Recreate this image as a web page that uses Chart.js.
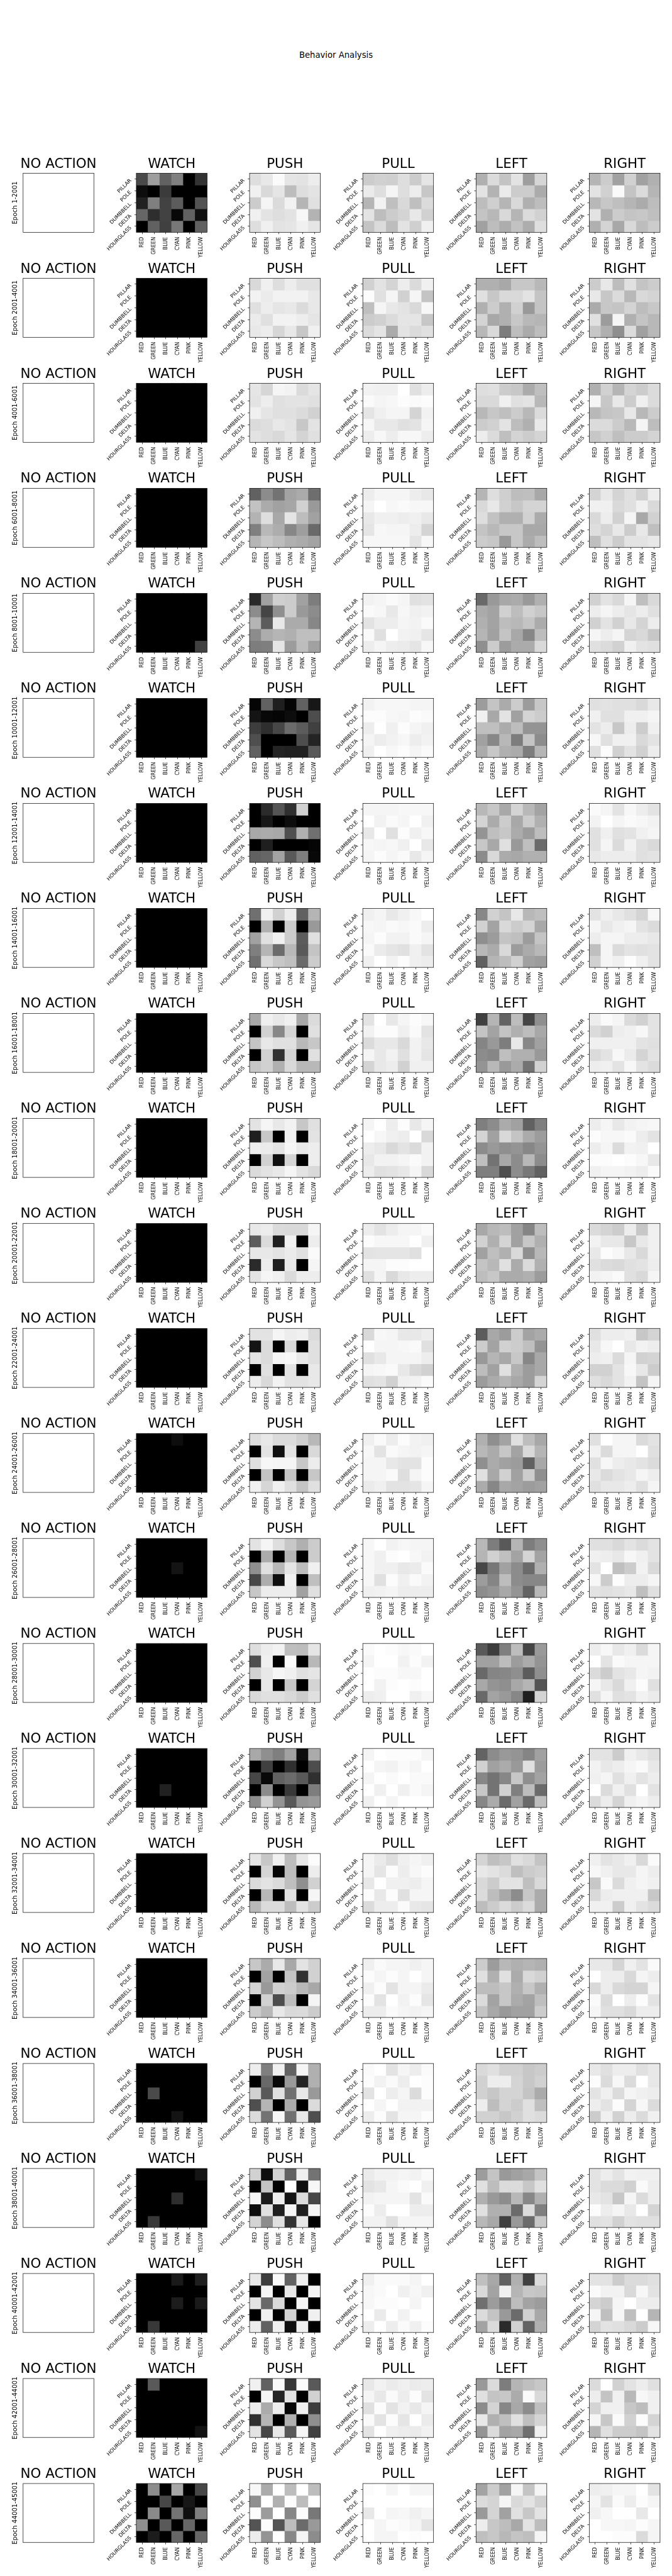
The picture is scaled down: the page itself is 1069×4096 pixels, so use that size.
<!DOCTYPE html>
<html lang="en">
<head>
<meta charset="UTF-8">
<title>Behavior Analysis</title>
<script src="https://cdn.jsdelivr.net/npm/chart.js@4/dist/chart.umd.min.js"></script>
<style>
  html, body { margin: 0; padding: 0; background: #fff; }
  #page { position: relative; width: 1069px; height: 4096px; overflow: hidden; }
  #page canvas { position: absolute; }
  #suptitle { position: absolute; left: 0; width: 1069px; top: 79.5px; text-align: center;
    font: 13.2px/15px "DejaVu Sans", sans-serif; color: #000; }
</style>
</head>
<body>
<div id="page"><div id="suptitle">Behavior Analysis</div></div>
<script>
const actions = ['NO ACTION', 'WATCH', 'PUSH', 'PULL', 'LEFT', 'RIGHT'];
const colours = ['RED', 'GREEN', 'BLUE', 'CYAN', 'PINK', 'YELLOW'];
const shapes = ['PILLAR', 'POLE', 'DUMBBELL', 'DELTA', 'HOURGLASS'];
const epochs = ['1-2001', '2001-4001', '4001-6001', '6001-8001', '8001-10001', '10001-12001',
  '12001-14001', '14001-16001', '16001-18001', '18001-20001', '20001-22001', '22001-24001',
  '24001-26001', '26001-28001', '28001-30001', '30001-32001', '32001-34001', '34001-36001',
  '36001-38001', '38001-40001', '40001-42001', '42001-44001', '44001-45001'];

// brightness of each cell, 0 = black, 100 = white, read row by row (5 shapes x 6 colours)
const watchCells = [
  [29,62,38,50,0,20, 5,0,23,0,0,0, 13,50,26,36,0,32, 40,18,26,3,38,6, 0,38,25,47,0,38],
  [0,0,0,0,0,0, 0,0,0,0,0,0, 0,0,0,0,0,0, 0,0,0,0,0,0, 0,0,0,0,0,0],
  [0,0,0,0,0,0, 0,0,0,0,0,0, 0,0,0,0,0,0, 0,0,0,0,0,0, 0,0,0,0,0,0],
  [0,0,0,0,0,0, 0,0,0,0,0,0, 0,0,0,0,0,0, 0,0,0,0,0,0, 0,0,0,0,0,0],
  [0,0,0,0,0,0, 0,0,0,0,0,0, 0,0,0,0,0,0, 0,0,0,0,0,0, 0,0,0,0,0,25],
  [0,0,0,0,0,0, 0,0,0,0,0,0, 0,0,0,0,0,0, 0,0,0,0,0,0, 0,0,0,0,0,0],
  [0,0,0,0,0,0, 0,0,0,0,0,0, 0,0,0,0,0,0, 0,0,0,0,0,0, 0,0,0,0,0,0],
  [0,0,0,0,0,0, 0,0,0,0,0,0, 0,0,0,0,0,0, 0,0,0,0,0,0, 0,0,0,0,0,0],
  [0,0,0,0,0,0, 0,0,0,0,0,0, 0,0,0,0,0,0, 0,0,0,0,0,0, 0,0,0,0,0,0],
  [0,0,0,0,0,0, 0,0,0,0,0,0, 0,0,0,0,0,0, 0,0,0,0,0,0, 0,0,0,0,0,0],
  [0,0,0,0,0,0, 0,0,0,0,0,0, 0,0,0,0,0,0, 0,0,0,0,0,0, 0,0,0,0,0,0],
  [0,0,0,0,0,0, 0,0,0,0,0,0, 0,0,0,0,0,0, 0,0,0,0,0,0, 0,0,0,0,0,0],
  [0,0,0,5,0,0, 0,0,0,0,0,0, 0,0,0,0,0,0, 0,0,0,0,0,0, 0,0,0,0,0,0],
  [0,0,0,0,0,0, 0,0,0,0,0,0, 0,0,0,8,0,0, 0,0,0,0,0,0, 0,0,0,0,0,0],
  [0,0,0,0,0,0, 0,0,0,0,0,0, 0,0,0,0,0,0, 0,0,0,0,0,0, 0,0,0,0,0,0],
  [0,0,0,0,0,0, 0,0,0,0,0,0, 0,0,0,0,0,0, 0,0,13,0,0,0, 0,0,0,0,0,0],
  [0,0,0,0,0,0, 0,0,0,0,0,0, 0,0,0,0,0,0, 0,0,0,0,0,0, 0,0,0,0,0,0],
  [0,0,0,0,0,0, 0,0,0,0,0,0, 0,0,0,0,0,0, 0,0,0,0,0,0, 0,0,0,0,0,0],
  [0,0,0,0,0,0, 0,0,0,0,0,0, 0,29,0,0,0,0, 0,0,0,0,0,0, 0,0,0,8,0,0],
  [0,0,0,0,0,8, 0,0,0,0,0,0, 0,0,0,18,0,0, 0,0,0,0,0,0, 0,22,0,0,0,0],
  [0,0,0,10,0,12, 0,0,0,0,0,0, 0,0,0,11,0,10, 0,0,0,0,0,0, 0,22,0,0,0,0],
  [0,35,0,0,0,0, 0,0,0,0,0,0, 0,0,0,0,0,0, 0,0,0,0,0,0, 0,0,0,0,0,7],
  [0,55,0,65,0,28, 0,0,28,0,9,0, 0,54,0,45,6,50, 56,0,35,0,40,0, 0,11,0,40,0,40],
];
const pushCells = [
  [87,91,98,90,89,93, 94,85,90,74,87,89, 80,96,86,95,71,88, 94,89,87,89,97,70, 87,94,89,90,94,90],
  [85,94,87,93,88,88, 95,92,95,95,95,91, 88,93,90,91,86,91, 92,88,95,95,93,90, 91,93,84,91,78,94],
  [90,84,96,95,86,90, 89,93,88,89,89,88, 94,90,88,88,86,82, 86,87,91,89,78,89, 89,87,85,90,83,88],
  [38,55,45,64,67,43, 76,67,63,65,82,60, 70,87,66,90,74,63, 50,72,68,53,62,41, 71,78,74,69,67,64],
  [16,63,81,80,63,49, 55,27,56,80,60,55, 71,36,91,67,67,53, 55,68,71,69,75,75, 49,50,90,61,74,63],
  [2,38,12,2,38,9, 8,3,2,5,0,30, 24,18,28,42,36,25, 31,0,0,0,30,14, 38,0,14,13,13,35],
  [0,17,33,19,82,0, 0,9,0,5,0,0, 66,67,66,31,69,44, 0,12,0,0,0,2, 38,40,64,35,50,3],
  [44,94,82,93,38,71, 0,69,0,80,0,60, 63,88,94,80,36,88, 50,71,42,72,35,77, 44,85,78,75,42,80],
  [66,94,91,94,66,86, 0,82,53,83,0,88, 77,91,88,88,72,78, 0,82,19,83,0,88, 78,82,69,85,72,72],
  [89,96,91,95,78,88, 12,78,0,94,0,89, 93,92,89,96,91,93, 0,82,6,83,0,93, 86,89,91,96,89,85],
  [91,93,86,85,85,96, 36,86,12,94,0,93, 91,91,89,92,88,98, 17,93,12,91,0,96, 89,96,94,86,93,93],
  [89,89,96,93,94,86, 8,86,0,85,0,88, 89,86,96,97,91,88, 0,88,0,89,0,91, 93,85,95,89,89,91],
  [87,91,86,86,81,72, 0,89,6,89,0,85, 88,97,96,96,78,93, 0,77,0,77,0,78, 94,84,94,88,77,88],
  [89,96,87,78,69,80, 0,67,0,71,0,80, 56,88,72,90,74,94, 28,68,6,94,0,75, 78,93,93,93,63,88],
  [87,93,95,75,74,90, 31,94,0,98,0,72, 82,91,96,94,88,90, 0,91,0,78,0,83, 85,88,88,85,80,88],
  [66,56,50,63,5,67, 0,25,0,19,0,30, 28,3,38,42,35,19, 0,55,0,22,0,49, 55,82,58,35,58,60],
  [90,78,94,74,91,99, 0,83,2,74,0,93, 86,89,86,75,56,82, 0,72,0,88,0,96, 72,86,86,74,89,80],
  [78,67,91,66,89,82, 0,64,0,77,19,82, 83,60,82,80,72,66, 0,82,30,74,0,96, 80,72,91,85,86,80],
  [93,50,94,39,96,69, 0,41,3,60,14,69, 82,35,88,44,91,60, 31,71,0,67,0,86, 86,45,97,44,91,31],
  [82,6,83,38,94,45, 0,77,0,100,6,97, 96,11,93,8,86,28, 5,88,12,96,12,96, 83,55,88,20,91,0],
  [91,24,98,39,94,0, 0,96,0,91,0,96, 89,41,85,0,96,0, 0,94,0,82,0,94, 93,38,94,6,94,0],
  [94,38,98,22,99,35, 0,96,14,89,0,82, 93,67,93,3,94,24, 19,71,0,69,0,56, 89,28,91,35,96,25],
  [97,67,100,74,100,74, 56,100,69,99,74,100, 99,61,100,53,99,47, 33,99,33,74,42,60, 93,58,100,53,96,55],
];
const pullCells = [
  [80,82,81,87,80,90, 92,87,96,87,93,78, 71,95,75,85,75,86, 89,74,80,83,91,82, 77,86,74,89,81,94],
  [82,89,83,93,86,94, 99,88,96,82,96,77, 75,96,91,89,85,97, 80,82,86,90,90,78, 86,90,67,89,86,88],
  [95,94,94,100,88,93, 98,96,97,99,98,99, 90,94,96,96,83,95, 97,91,91,88,89,96, 93,97,93,97,97,93],
  [93,96,96,96,93,91, 96,100,97,98,97,97, 91,94,94,93,94,91, 90,97,96,96,93,83, 97,97,97,97,90,97],
  [95,96,98,96,88,89, 98,97,91,97,94,95, 89,93,93,96,95,98, 98,88,100,95,94,90, 93,96,93,92,90,97],
  [95,97,97,97,96,96, 99,99,97,96,99,98, 93,100,94,99,96,94, 96,93,95,97,93,95, 94,100,97,99,96,98],
  [96,96,96,97,97,97, 100,95,98,96,100,94, 91,100,88,99,94,97, 97,96,97,94,100,91, 96,99,96,98,91,96],
  [94,96,91,94,97,100, 97,96,98,97,98,93, 96,99,95,95,98,96, 98,92,90,88,94,89, 94,100,95,99,94,93],
  [89,100,91,96,99,97, 95,99,99,94,98,89, 86,91,91,85,95,91, 96,91,95,88,95,90, 83,91,93,82,94,94],
  [96,100,93,99,91,96, 100,97,94,93,100,85, 93,91,85,89,86,95, 91,95,95,96,98,95, 93,88,89,91,96,85],
  [93,89,93,96,96,98, 99,97,97,97,100,94, 89,90,90,90,88,100, 96,96,99,99,100,100, 88,96,85,91,93,93],
  [85,97,96,91,91,93, 100,96,96,97,98,88, 88,91,96,96,96,93, 96,97,98,91,85,82, 88,89,82,94,95,98],
  [94,98,93,99,95,94, 97,89,98,96,95,96, 96,96,91,89,89,99, 96,96,98,87,96,99, 92,94,89,89,90,96],
  [97,100,95,97,96,96, 97,94,99,100,97,95, 97,94,94,91,92,98, 97,88,99,94,98,95, 94,95,96,93,93,93],
  [98,100,99,97,98,100, 96,100,100,95,99,95, 100,99,99,97,97,100, 100,95,99,100,99,100, 93,94,100,100,94,97],
  [96,100,99,99,99,96, 100,96,95,98,96,100, 96,100,98,100,98,98, 100,94,100,94,98,96, 94,100,96,100,100,100],
  [96,92,87,94,96,94, 96,90,99,93,97,99, 91,100,94,94,93,96, 99,91,99,88,96,96, 86,93,93,98,91,90],
  [94,98,96,96,94,96, 99,96,99,96,100,96, 94,99,89,96,96,92, 99,89,100,95,99,90, 93,93,98,96,95,96],
  [98,100,89,96,93,98, 99,95,98,93,100,99, 89,100,93,96,86,99, 100,96,100,95,95,95, 93,99,89,96,96,99],
  [92,95,95,96,95,98, 89,91,96,98,100,94, 95,96,96,96,89,98, 99,93,100,100,93,93, 95,95,88,96,96,96],
  [94,98,98,98,96,100, 97,98,100,94,97,94, 97,99,99,100,96,100, 100,92,100,95,100,100, 93,100,93,98,94,99],
  [91,95,92,94,92,93, 96,91,98,93,99,89, 88,99,89,95,91,96, 98,89,99,90,100,92, 89,100,94,93,92,95],
  [99,100,96,100,96,96, 100,100,100,100,100,100, 91,100,96,97,94,96, 100,96,99,98,96,90, 100,96,96,100,99,100],
];
const leftCells = [
  [69,86,77,89,62,84, 89,70,92,80,80,67, 74,81,71,85,69,74, 77,72,85,71,86,82, 63,74,68,76,68,87],
  [69,69,66,78,78,72, 88,78,85,85,89,77, 69,80,69,82,60,77, 83,66,69,78,72,71, 72,85,49,74,67,74],
  [87,88,80,78,67,75, 85,85,94,88,89,72, 72,78,75,80,72,86, 80,82,89,74,69,91, 93,86,75,83,80,83],
  [71,87,81,74,75,66, 85,91,82,78,83,83, 87,76,69,69,82,67, 77,72,78,78,66,66, 80,78,60,78,67,74],
  [41,60,66,67,60,69, 67,64,82,74,82,78, 69,64,74,72,77,67, 71,63,77,66,53,74, 56,80,61,67,67,85],
  [61,77,67,80,61,78, 94,66,89,63,83,80, 75,75,67,74,58,58, 63,53,72,49,77,55, 67,78,69,67,49,71],
  [72,78,66,83,72,64, 83,67,80,66,80,69, 58,75,78,67,61,74, 78,66,88,60,75,42, 55,85,67,66,69,69],
  [53,82,77,91,72,75, 82,64,85,80,83,66, 56,61,77,75,61,77, 72,67,85,61,67,72, 38,71,74,82,63,61],
  [25,71,39,74,27,56, 77,64,77,69,74,66, 52,60,49,91,53,63, 55,53,75,69,69,60, 58,72,60,67,45,82],
  [50,55,67,63,38,50, 83,63,85,77,67,61, 55,60,56,58,53,58, 75,45,66,55,72,55, 50,50,31,55,47,38],
  [66,72,74,63,52,74, 82,69,83,63,78,69, 63,75,69,85,56,72, 77,72,88,67,86,69, 74,78,67,67,69,61],
  [36,66,61,80,64,67, 80,64,82,80,75,58, 60,71,66,78,53,66, 74,63,88,69,61,66, 61,67,71,66,61,83],
  [69,56,64,88,74,66, 72,67,78,64,85,71, 56,67,63,61,38,66, 88,66,82,63,80,56, 67,53,66,64,61,63],
  [72,49,35,71,49,56, 71,82,75,64,83,64, 28,47,63,55,42,69, 61,52,74,55,53,53, 55,58,66,58,39,72],
  [35,24,50,74,27,60, 63,63,74,61,67,58, 41,52,53,56,36,56, 66,58,56,66,71,33, 41,64,60,53,12,83],
  [39,55,60,58,52,63, 82,63,67,60,88,61, 53,45,53,78,56,64, 78,45,82,50,74,42, 53,67,42,63,41,74],
  [83,75,78,88,85,77, 91,89,86,75,80,82, 85,80,89,89,75,85, 86,74,66,55,78,67, 74,80,86,80,86,67],
  [80,61,72,69,71,69, 88,69,88,67,85,82, 74,74,78,69,78,69, 86,64,78,67,64,75, 77,66,60,63,63,80],
  [85,88,82,82,78,80, 82,93,93,83,78,82, 82,78,83,83,77,67, 93,74,83,80,88,75, 82,82,78,82,88,86],
  [61,77,60,63,66,77, 88,74,86,86,78,88, 69,60,55,72,53,69, 88,69,69,42,86,50, 72,66,25,60,42,78],
  [75,66,38,69,25,86, 85,64,94,71,78,77, 44,61,50,74,64,61, 86,77,60,42,82,66, 64,86,17,82,39,69],
  [60,86,49,71,75,78, 88,77,78,67,98,85, 55,83,53,66,55,75, 91,69,75,88,75,83, 58,86,64,66,44,94],
  [64,80,63,96,77,96, 86,83,96,85,89,82, 60,83,63,88,78,89, 93,78,74,66,89,74, 75,78,72,77,75,96],
];
const rightCells = [
  [71,80,63,82,63,69, 89,82,98,77,86,71, 72,78,75,71,67,74, 89,69,80,77,78,75, 69,83,66,85,74,80],
  [80,91,74,88,77,80, 91,78,86,72,85,83, 67,78,77,83,74,78, 88,61,96,69,77,72, 78,69,56,86,63,72],
  [69,82,71,83,80,86, 96,78,91,80,94,86, 72,77,78,91,72,80, 86,86,80,72,96,74, 78,82,75,80,80,83],
  [83,91,83,88,82,93, 94,94,85,88,94,85, 85,93,82,96,66,82, 87,83,91,80,91,75, 75,88,80,89,89,91],
  [82,89,85,96,75,85, 93,96,93,90,93,88, 82,89,82,91,83,93, 96,93,96,83,85,78, 88,86,82,94,89,88],
  [88,89,88,88,85,91, 94,88,88,94,94,96, 89,93,78,93,80,94, 97,88,94,94,85,89, 88,99,82,89,82,93],
  [98,96,89,97,93,89, 95,100,96,98,97,95, 88,94,88,89,94,96, 88,96,86,95,88,85, 91,93,93,93,88,89],
  [89,94,91,88,83,97, 96,91,94,96,89,86, 93,96,96,93,93,91, 75,96,86,89,88,89, 82,96,94,99,94,89],
  [93,98,96,86,82,89, 86,82,93,94,97,89, 94,94,94,94,89,88, 86,89,97,92,83,89, 93,94,89,97,89,86],
  [93,96,91,95,96,97, 99,97,97,98,93,89, 93,96,86,95,94,100, 99,99,100,99,97,91, 94,96,96,95,93,98],
  [86,83,80,93,78,94, 95,91,91,78,91,94, 91,99,97,91,85,94, 88,86,85,88,89,93, 95,96,98,88,85,96],
  [88,93,93,94,78,83, 91,97,100,91,95,93, 93,94,86,96,82,83, 82,82,89,97,91,80, 88,85,89,95,77,96],
  [88,100,96,96,86,89, 95,86,96,96,100,88, 88,97,93,91,89,86, 91,86,89,91,96,93, 88,91,91,93,88,96],
  [88,88,85,89,86,89, 94,93,91,97,94,89, 89,100,75,80,95,85, 97,80,99,93,93,96, 89,88,89,91,75,88],
  [93,97,91,94,86,96, 100,89,98,96,96,96, 86,80,89,91,96,95, 96,91,85,94,99,88, 88,96,88,89,95,92],
  [89,89,80,94,91,88, 95,91,93,96,98,91, 94,96,88,94,89,93, 100,86,94,88,100,89, 86,93,83,94,96,93],
  [94,89,91,94,85,98, 97,94,91,91,96,93, 78,98,86,94,96,94, 85,93,94,94,94,78, 94,94,80,94,89,86],
  [91,91,83,94,89,98, 100,93,93,85,96,93, 85,93,85,83,83,96, 98,86,100,93,99,89, 96,88,88,85,93,93],
  [91,88,93,93,88,91, 99,86,97,86,100,91, 89,94,86,96,94,93, 93,89,99,83,97,86, 80,94,82,93,86,94],
  [89,93,89,95,94,94, 89,86,86,82,98,93, 91,89,78,96,86,93, 99,93,96,91,100,83, 88,89,82,89,88,88],
  [89,89,80,86,86,88, 98,95,95,85,97,89, 83,80,96,100,93,93, 96,75,97,75,100,71, 83,89,88,85,80,97],
  [86,100,82,89,93,88, 93,77,94,72,97,94, 83,94,94,78,74,94, 96,78,98,82,99,83, 71,88,80,80,77,89],
  [93,94,96,96,100,89, 96,89,98,93,99,96, 94,97,100,100,91,100, 100,97,97,96,99,96, 100,100,99,99,86,96],
];
const cellsByAction = [null, watchCells, pushCells, pullCells, leftCells, rightCells];

// layout in window pixels, measured on the reference and scaled down
const SX = 0.5939, SY = 0.5936;
const plotW = 189.5 * SX, plotH = 158 * SY;
const titleSize = 21.4, titlePad = 1.7;
const titleBox = titleSize * 1.2 + titlePad;
const marginLeft = 64, marginRight = 12, marginBottom = 62;
// cells overlap a little so that no white seam shows between them
const bleed = 0.03;

function grey(v) {
  const g = Math.round(v * 2.55);
  return 'rgb(' + g + ',' + g + ',' + g + ')';
}

const framePlugin = {
  id: 'frame',
  // the title is wider than the plot, and chart.js squeezes it to its box otherwise
  afterLayout(chart) {
    chart.titleBlock.left -= marginRight;
    chart.titleBlock.right += marginRight;
  },
  afterDatasetsDraw(chart) {
    const a = chart.chartArea, ctx = chart.ctx;
    ctx.save();
    ctx.strokeStyle = '#000';
    ctx.lineWidth = 0.7;
    ctx.strokeRect(a.left, a.top, a.right - a.left, a.bottom - a.top);
    ctx.restore();
  }
};

Chart.defaults.font.family = '"DejaVu Sans", sans-serif';
Chart.defaults.color = '#000';
Chart.defaults.animation = false;

function drawCell(row, col) {
  const plotLeft = (61.9 + 303.3 * col) * SX;
  const plotTop = (464.2 + 281.29 * row) * SY;
  const canvasLeft = col === 0 ? 0 : Math.floor(plotLeft - marginLeft);
  const canvasTop = Math.floor(plotTop - titleBox);
  const axisW = plotLeft - canvasLeft;
  const padTop = plotTop - titleBox - canvasTop;

  const canvas = document.createElement('canvas');
  const w = Math.ceil(axisW + plotW + marginRight);
  const h = Math.ceil(padTop + titleBox + plotH + marginBottom);
  canvas.width = w;
  canvas.height = h;
  canvas.style.left = canvasLeft + 'px';
  canvas.style.top = canvasTop + 'px';
  document.getElementById('page').appendChild(canvas);

  const cells = cellsByAction[col];
  const datasets = cells ? shapes.map((s, r) => ({
    label: s,
    data: colours.map(() => [r - bleed, r + 1 + bleed]),
    backgroundColor: colours.map((c, i) => grey(cells[row][r * 6 + i])),
    borderWidth: 0,
    barPercentage: 1 + 2 * bleed,
    categoryPercentage: 1,
    grouped: false
  })) : [];

  const tickGrid = {
    drawOnChartArea: false, drawTicks: true, offset: false,
    tickLength: 2.9, tickWidth: 0.7, tickColor: '#000'
  };

  new Chart(canvas, {
    type: 'bar',
    data: { labels: colours, datasets: datasets },
    plugins: [framePlugin],
    options: {
      responsive: false,
      events: [],
      layout: { padding: { top: padTop, left: 0, right: w - axisW - plotW, bottom: 0 } },
      plugins: {
        legend: { display: false },
        tooltip: { enabled: false },
        title: {
          display: true, text: actions[col], fullSize: false,
          font: { size: titleSize, weight: 'normal' },
          padding: { top: 0, bottom: titlePad }
        }
      },
      scales: {
        x: {
          type: 'category',
          border: { display: false },
          grid: cells ? tickGrid : { display: false },
          ticks: { display: !!cells, autoSkip: false, minRotation: 90, maxRotation: 90, padding: 4.6, font: { size: 8 } },
          afterFit(s) {
            s.height = h - padTop - titleBox - plotH;
            s.paddingLeft = s.paddingRight = 0;
          }
        },
        y: {
          type: 'linear', min: 0, max: 5, reverse: true,
          border: { display: false },
          grid: cells ? tickGrid : { display: false },
          title: {
            display: col === 0, text: 'Epoch ' + epochs[row],
            font: { size: 9.9 }, padding: { top: 18.3, bottom: 0 }
          },
          ticks: {
            display: !!cells, autoSkip: false, minRotation: 45, maxRotation: 45, padding: 6, labelOffset: 1,
            font: { size: 8.2 }, callback: (v, i) => shapes[i]
          },
          afterBuildTicks(s) {
            s.ticks = shapes.map((n, i) => ({ value: i + 0.5 }));
          },
          afterFit(s) {
            s.width = axisW;
            s.paddingTop = s.paddingBottom = 0;
          }
        }
      }
    }
  });
}

for (let row = 0; row < epochs.length; row++) {
  for (let col = 0; col < actions.length; col++) drawCell(row, col);
}
</script>
</body>
</html>
